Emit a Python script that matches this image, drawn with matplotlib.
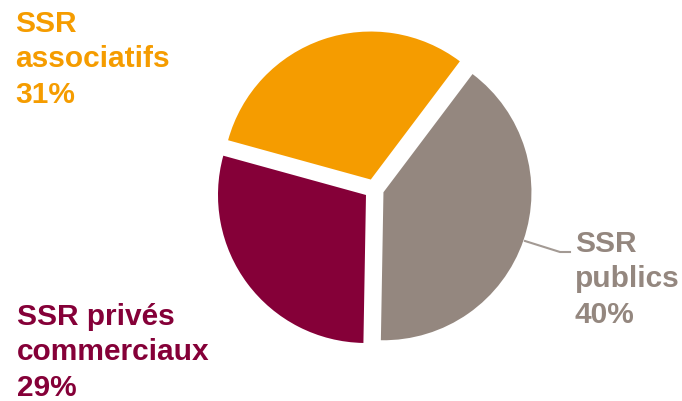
import matplotlib
matplotlib.use("Agg")
import matplotlib.pyplot as plt

categories = ["SSR publics", "SSR privés commerciaux", "SSR associatifs"]
values = [40, 29, 31]
colors = ["#94877F", "#850038", "#F59C00"]
label_texts = ["SSR\npublics\n40%", "SSR privés\ncommerciaux\n29%", "SSR\nassociatifs\n31%"]

W, H = 682, 402
fig = plt.figure(figsize=(W / 100, H / 100), dpi=100)
ax = fig.add_axes([0, 0, 1, 1])

cx, cy, r = 374, H - 190, 148
ax.pie(values, colors=colors, startangle=53, counterclock=False,
       center=(cx, cy), radius=r, explode=[10] * 3,
       wedgeprops=dict(linewidth=0))
ax.set_xlim(0, W)
ax.set_ylim(0, H)
ax.set_aspect("equal")
ax.axis("off")

font = dict(family=["Liberation Sans", "DejaVu Sans"], fontweight="bold", fontsize=21.5)
ls = 1.33
ax.text(15, H - 10, label_texts[2], color=colors[2], va="top", ha="left", linespacing=ls, **font)
ax.text(17, H - 303, label_texts[1], color=colors[1], va="top", ha="left", linespacing=ls, **font)
ax.text(575, H - 230, label_texts[0], color=colors[0], va="top", ha="left", linespacing=ls, **font)

ax.plot([525, 560, 570], [H - 242, H - 253, H - 253], color="#A39A94", lw=1.5)

fig.savefig("out.png", dpi=100)
